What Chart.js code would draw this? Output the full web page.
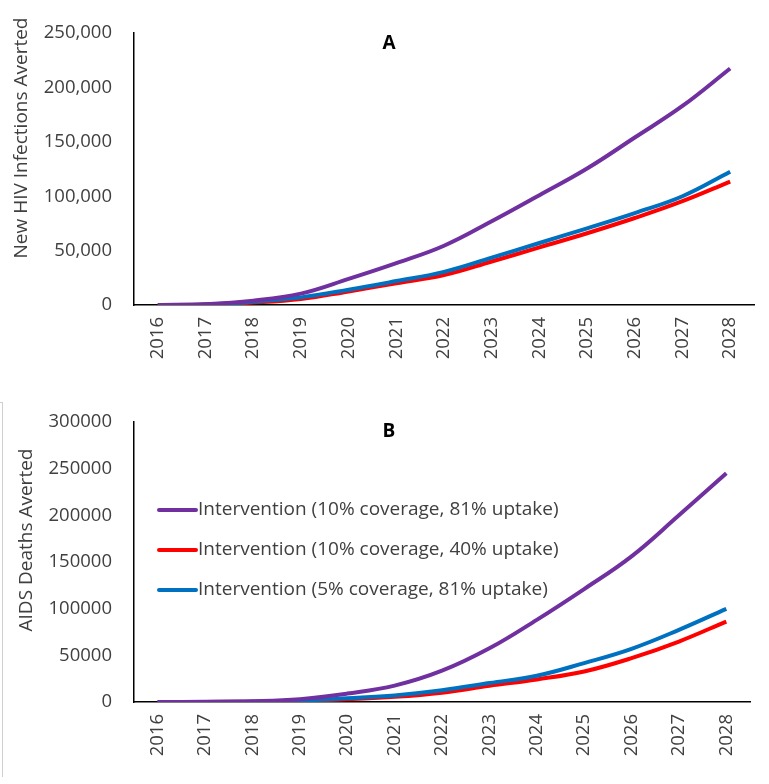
<!DOCTYPE html>
<html>
<head>
<meta charset="utf-8">
<script src="https://cdn.jsdelivr.net/npm/chart.js@4/dist/chart.umd.min.js"></script>
<style>
  html, body { margin: 0; padding: 0; background: #fff; }
  #wrap { position: relative; width: 769px; height: 784px; }
  #boxA { position: absolute; left: 0; top: 0; width: 769px; height: 384px; }
  #boxB { position: absolute; left: 0; top: 384px; width: 769px; height: 400px; }
  #edge { position: absolute; left: 0; top: 402px; width: 2px; height: 374px; border-right: 1px solid #cfcfcf; border-top: 1px solid #cfcfcf; }
</style>
</head>
<body>
<div id="wrap">
  <div id="boxA"><canvas id="chartA" width="769" height="384"></canvas></div>
  <div id="boxB"><canvas id="chartB" width="769" height="400"></canvas></div>
  <div id="edge"></div>
</div>
<script>
// ---------- data ----------
const years = ['2016','2017','2018','2019','2020','2021','2022','2023','2024','2025','2026','2027','2028'];
const seriesLabels = [
  'Intervention (10% coverage, 81% uptake)',
  'Intervention (10% coverage, 40% uptake)',
  'Intervention (5% coverage, 81% uptake)'
];
// Panel A: New HIV infections averted
const infPurple = [0, 800, 4000, 10500, 24000, 38500, 54500, 77000, 101000, 125500, 154000, 183000, 217500];
const infRed    = [0, 400, 2200, 5500, 12500, 20000, 27500, 40000, 53000, 66000, 80000, 95500, 113500];
const infBlue   = [0, 500, 3000, 7000, 14000, 22000, 30500, 43500, 57000, 70500, 84500, 100000, 122500];
// Panel B: AIDS deaths averted
const dthPurple = [0, 200, 800, 3000, 9000, 17500, 33500, 57500, 88000, 121000, 156000, 200000, 245000];
const dthRed    = [0, 100, 300, 1200, 3000, 5500, 10000, 17400, 24200, 32700, 47000, 64800, 86200];
const dthBlue   = [0, 100, 400, 1500, 4000, 7000, 12500, 20300, 28100, 41700, 57000, 77300, 99800];
const ticksA = [0, 50000, 100000, 150000, 200000, 250000];
const ticksB = [0, 50000, 100000, 150000, 200000, 250000, 300000];
const colors = ['#7030A0', '#FF0000', '#0070C0'];

const FONT = '"Open Sans", Lato, sans-serif';

function mkDatasets(a, b, c) {
  return [a, b, c].map((d, i) => ({
    label: seriesLabels[i],
    data: d,
    borderColor: colors[i],
    backgroundColor: colors[i],
    borderWidth: 4,
    pointRadius: 0,
    tension: 0.4,
    fill: false
  }));
}
function orderDatasets(ds) { ds[0].order = 0; ds[1].order = 2; ds[2].order = 1; return ds; }

const overlay = {
  id: 'overlay',
  afterDraw(chart, args, o) {
    const ctx = chart.ctx;
    ctx.save();
    ctx.fillStyle = '#000';
    ctx.font = 'bold 19px ' + FONT;
    ctx.textAlign = 'center';
    ctx.textBaseline = 'middle';
    ctx.fillText(o.letter, o.letterX, o.letterY);
    ctx.fillStyle = '#404040';
    ctx.font = '19px ' + FONT;
    ctx.translate(o.titleX, o.titleY);
    ctx.rotate(-Math.PI / 2);
    ctx.fillText(o.title, 0, 0);
    ctx.restore();
    if (o.legend) {
      ctx.save();
      ctx.font = '19px ' + FONT;
      ctx.textAlign = 'left';
      ctx.textBaseline = 'middle';
      chart.data.datasets.forEach((ds, i) => {
        const y = o.legendY + i * o.legendGap;
        ctx.strokeStyle = ds.borderColor;
        ctx.lineWidth = 4;
        ctx.lineCap = 'round';
        ctx.beginPath();
        ctx.moveTo(o.legendX, y);
        ctx.lineTo(o.legendX + 37, y);
        ctx.stroke();
        ctx.fillStyle = '#404040';
        ctx.fillText(ds.label, o.legendX + 39, y);
      });
      ctx.restore();
    }
  }
};

function mkOptions(ticks, fmt, pad, xH, ov) {
  return {
    responsive: false,
    animation: false,
    layout: { padding: pad },
    plugins: { legend: { display: false }, tooltip: { enabled: false }, overlay: ov },
    scales: {
      x: {
        type: 'category',
        offset: true,
        grid: { display: false, drawTicks: false },
        border: { display: true, color: '#000', width: 1.5 },
        ticks: { color: '#404040', font: { family: FONT, size: 18.5 }, minRotation: 90, maxRotation: 90, padding: 12, autoSkip: false },
        afterFit(s) { s.height = xH; }
      },
      y: {
        min: 0, max: ticks[ticks.length - 1],
        grid: { display: false, drawTicks: false },
        border: { display: true, color: '#000', width: 1.5 },
        afterBuildTicks(s) { s.ticks = ticks.map(v => ({ value: v })); },
        ticks: { color: '#404040', font: { family: FONT, size: 18.5 }, padding: 22, callback: fmt },
        afterFit(s) { s.width = 134; }
      }
    }
  };
}

new Chart(document.getElementById('chartA'), {
  type: 'line',
  data: { labels: years, datasets: orderDatasets(mkDatasets(infPurple, infRed, infBlue)) },
  options: mkOptions(ticksA, v => Number(v).toLocaleString('en-US'),
    { top: 33, right: 15, left: 0, bottom: 0 }, 79,
    { letter: 'A', letterX: 389, letterY: 44, title: 'New HIV Infections Averted', titleX: 22, titleY: 138 }),
  plugins: [overlay]
});

new Chart(document.getElementById('chartB'), {
  type: 'line',
  data: { labels: years, datasets: orderDatasets(mkDatasets(dthPurple, dthRed, dthBlue)) },
  options: mkOptions(ticksB, v => String(v),
    { top: 38, right: 19, left: 0, bottom: 0 }, 82,
    { letter: 'B', letterX: 389, letterY: 48, title: 'AIDS Deaths Averted', titleX: 27, titleY: 156,
      legend: true, legendX: 159, legendY: 126, legendGap: 40 }),
  plugins: [overlay]
});
</script>
</body>
</html>
